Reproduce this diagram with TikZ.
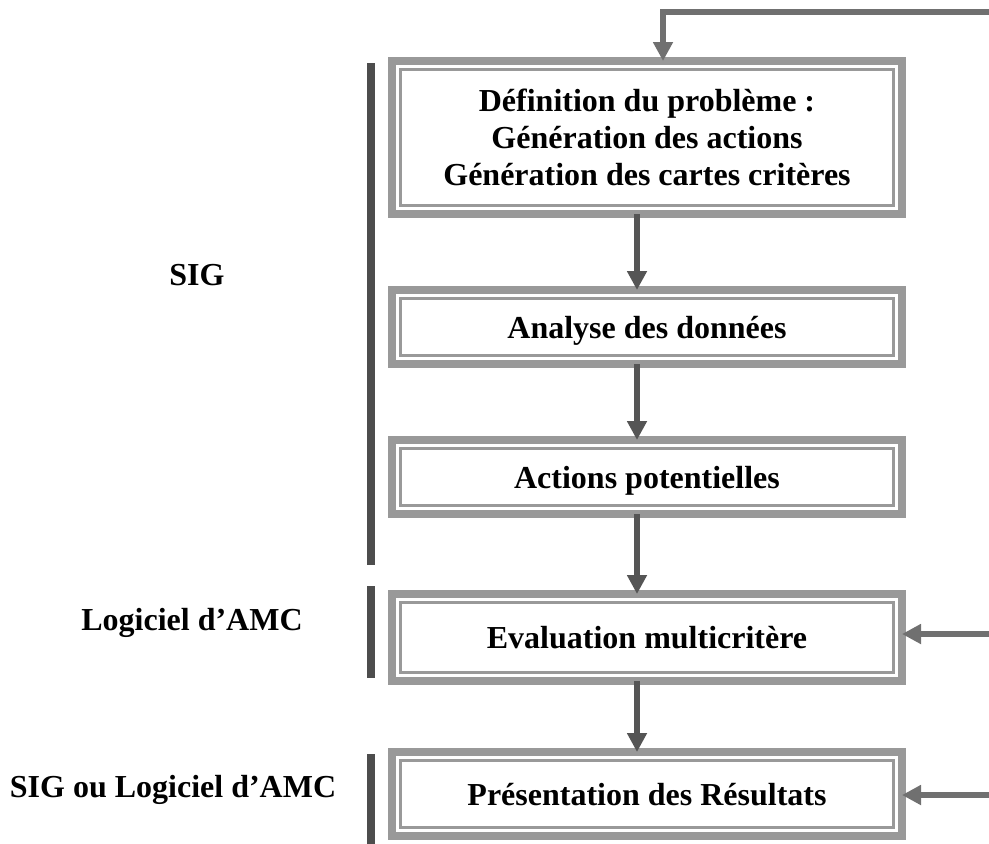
\documentclass[tikz,border=0pt]{standalone}
\usepackage{fontspec}
\setmainfont{Liberation Serif}
\usetikzlibrary{arrows.meta}

\definecolor{boxgray}{HTML}{999999}
\definecolor{bardark}{HTML}{4D4D4D}
\definecolor{arrowdark}{HTML}{555555}
\definecolor{loopgray}{HTML}{707070}

\begin{document}
\begin{tikzpicture}[x=0.5pt,y=-0.5pt,
  txt/.style={font=\fontsize{16}{18.5}\selectfont\bfseries,align=center},
  stepbox/.style={txt,draw=boxgray,line width=3.8pt,outer sep=0pt,inner sep=0pt,
    minimum width=255pt,text depth=0pt,
    path picture={\draw[boxgray,line width=1.5pt]
      ([shift={(4.1pt,-4.1pt)}]path picture bounding box.north west) rectangle
      ([shift={(-4.1pt,4.1pt)}]path picture bounding box.south east);}},
  flow/.style={draw=arrowdark,line width=3pt,-{Triangle[width=9.5pt,length=9.5pt]}},
  feedback/.style={draw=loopgray,line width=2.8pt,-{Triangle[width=9.5pt,length=9.5pt]}},
  toolbar/.style={draw=bardark,line width=4pt}]
  \useasboundingbox (0,0) rectangle (989,843);

  % the five steps
  \node[stepbox,minimum height=76.5pt] (def) at (647,137.5)
    {Définition du problème :\\Génération des actions\\Génération des cartes critères};
  \node[stepbox,minimum height=37pt] (ana) at (647,327) {Analyse des données};
  \node[stepbox,minimum height=37pt] (act) at (647,477) {Actions potentielles};
  \node[stepbox,minimum height=43.5pt] (eva) at (647,637.5) {Evaluation multicritère};
  \node[stepbox,minimum height=42pt] (pre) at (647,794) {Présentation des Résultats};

  % tools
  \node[txt] (sig) at (197,275) {SIG};
  \node[txt] (amc) at (192,623) {Logiciel d’AMC};
  \node[txt] (sigamc) at (173,790) {SIG ou Logiciel d’AMC};
  \draw[toolbar] (371,63) -- (371,565);
  \draw[toolbar] (371,586) -- (371,678);
  \draw[toolbar] (371,754) -- (371,850);

  % flow between steps
  \draw[flow] ([xshift=-5pt]def.south) -- ([xshift=-5pt]ana.north);
  \draw[flow] ([xshift=-5pt]ana.south) -- ([xshift=-5pt]act.north);
  \draw[flow] ([xshift=-5pt]act.south) -- ([xshift=-5pt]eva.north);
  \draw[flow] ([xshift=-5pt]eva.south) -- ([xshift=-5pt]pre.north);

  % returns
  \coordinate (looptop) at (995,12);
  \coordinate (loopeva) at (995,634);
  \coordinate (looppre) at (995,795);
  \draw[feedback] (looptop) -| ([xshift=8pt]def.north);
  \draw[feedback] (loopeva) -- (loopeva -| eva.east);
  \draw[feedback] (looppre) -- (looppre -| pre.east);
\end{tikzpicture}
\end{document}
